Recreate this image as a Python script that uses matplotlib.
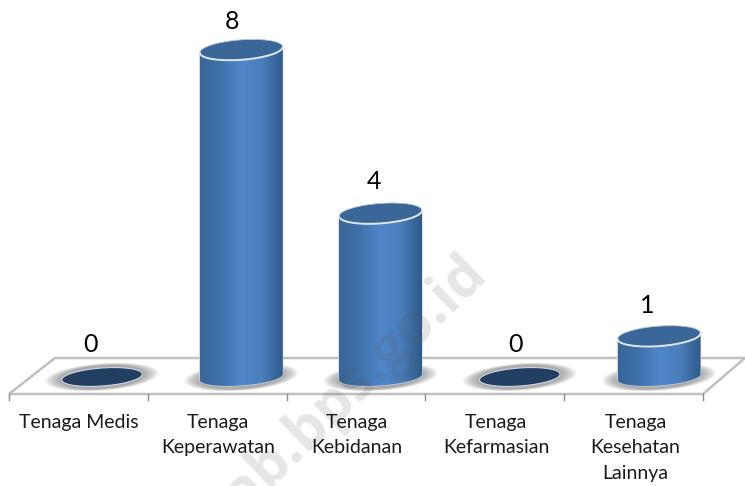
#!/usr/bin/env python3

import numpy as np
import matplotlib
matplotlib.use("Agg")
import matplotlib.pyplot as plt
from matplotlib.colors import LinearSegmentedColormap
from matplotlib.patches import PathPatch, Polygon
from matplotlib.path import Path

plt.rcParams['font.family'] = ['Lato', 'DejaVu Sans']

# Data
categories = ["Tenaga Medis", "Tenaga\nKeperawatan", "Tenaga\nKebidanan",
              "Tenaga\nKefarmasian", "Tenaga\nKesehatan\nLainnya"]
values = [0, 8, 4, 0, 1]

# Size of one unit in pixels, axes fill the whole figure
W, H = 745, 486
step_x = 139.25
step_y = 40.9
x0_px = 102
y0_px = 377

fig = plt.figure(figsize=(W / 100, H / 100), dpi=100)
ax = fig.add_axes([0, 0, 1, 1])
ax.axis("off")

rx = 41.5 / step_x
ry = 10 / step_y
skew = 0.07 * step_x / step_y


# Slightly tilted ellipse, right side higher
def ellipse(cx, cy, a=rx, b=ry, t=None):
    if t is None:
        t = np.linspace(0, 2 * np.pi, 120)
    dx = a * np.cos(t)
    dy = b * np.sin(t) + skew * dx
    return np.column_stack([cx + dx, cy + dy])


# Floor of the chart
floor_front = -17 / step_y
floor_back = 19 / step_y
floor = [(-93 / step_x, floor_front), (601 / step_x, floor_front),
         (643 / step_x, floor_back), (-47 / step_x, floor_back)]
ax.add_patch(Polygon(floor, closed=True, fc="white", ec="#c0c0c0", lw=1.8, zorder=1))
for i in range(6):
    tx = (-93 + i * 138.8) / step_x
    ax.plot([tx, tx], [floor_front, floor_front - 6 / step_y], color="#8c8c8c", lw=1, zorder=1)

# Soft shadow under each column
for i, v in enumerate(values):
    for k in np.linspace(1.38, 1.0, 24):
        pts = ellipse(i, 0, rx * k, ry * (0.6 + 0.55 * k))
        ax.add_patch(Polygon(pts, closed=True, fc="#707070", ec="none", alpha=0.03, zorder=2))

grad = LinearSegmentedColormap.from_list("col", ["#3a6698", "#3f71ab", "#5087c9", "#4a7dbb", "#2f5a8a"])
shade = np.linspace(0, 1, 256).reshape(1, -1)
label_dx = [-11, -9, -7, -4, -12]
label_dy = [33, 28, 32, 33, 31]

for i, v in enumerate(values):
    if v == 0:
        pts = ellipse(i, 0, rx * 0.97, ry * 0.9)
        ax.add_patch(Polygon(pts, closed=True, fc="#223f63", ec="#cfd6de", lw=0.8, zorder=3))
    else:
        # Body: along the front of the base, then back over the top front edge
        t = np.linspace(np.pi, 2 * np.pi, 60)
        base = ellipse(i, 0, b=ry * 0.85, t=t)
        top = ellipse(i, v, t=t[::-1])
        body = np.vstack([base, top, base[:1]])
        clip = PathPatch(Path(body), fc="none", ec="#cdd5de", lw=0.9, transform=ax.transData, zorder=3)
        ax.add_patch(clip)
        im = ax.imshow(shade, cmap=grad, extent=[i - rx, i + rx, -1, v + 1], aspect="auto",
                       zorder=3, interpolation="bilinear")
        im.set_clip_path(clip)
        ax.add_patch(Polygon(ellipse(i, v), closed=True, fc="#3a6797", ec="#b9c7d6", lw=0.6, zorder=4))
        front = ellipse(i, v, t=t)
        ax.plot(front[:, 0], front[:, 1], color="#dfe4ea", lw=1.4, zorder=5)

    # Value label above the column
    ax.text(i + label_dx[i] / step_x, v + label_dy[i] / step_y, str(v), ha="center", va="center",
            fontsize=18, color="black", zorder=7)

# Watermark lies over the columns and the floor, cut by the bottom edge as in the source
ax.text((343 - x0_px) / step_x, (y0_px - 395) / step_y, "kab.bps.go.id", rotation=44,
        rotation_mode="anchor", ha="center", va="center", family="Open Sans", fontweight="bold",
        fontsize=41, color="#555555", alpha=0.15, zorder=6, clip_on=True)

# Category labels
for i, name in enumerate(categories):
    ax.text(i - 23.5 / step_x, -36.5 / step_y, name, ha="center", va="top", fontsize=14,
            color="#1a1a1a", linespacing=1.63, zorder=7)

ax.set_xlim(-x0_px / step_x, (W - x0_px) / step_x)
ax.set_ylim((y0_px - H) / step_y, y0_px / step_y)
fig.savefig("out.png", dpi=100)
